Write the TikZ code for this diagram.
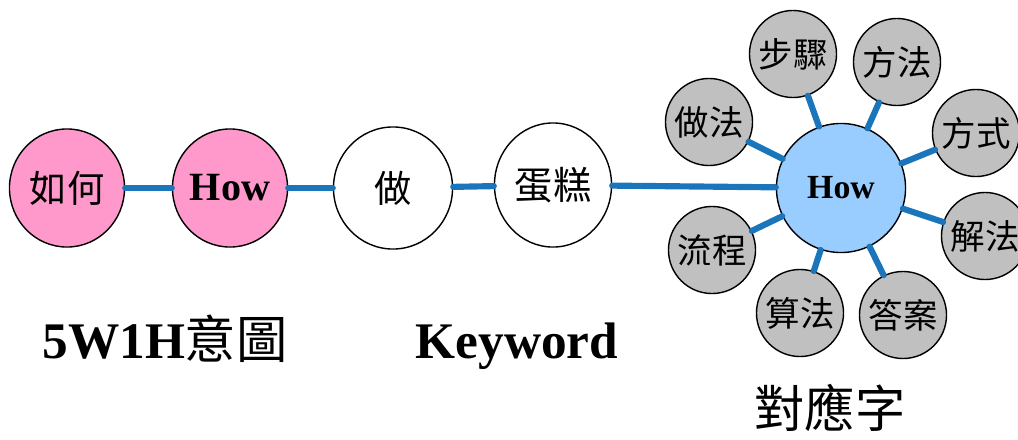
\documentclass[tikz,border=0pt]{standalone}
\usepackage{fontspec}
\setmainfont{Liberation Serif}
\newfontfamily\cjk{Noto Sans CJK TC}
\usepackage{tikz}
\usetikzlibrary{shapes.geometric, arrows}

\definecolor{linkblue}{RGB}{27,117,187}
\definecolor{pinkfill}{RGB}{255,153,204}
\definecolor{hubblue}{RGB}{153,204,255}
\definecolor{satgray}{RGB}{192,192,192}

\begin{document}
\begin{tikzpicture}[x=0.01cm,y=-0.01cm,
  word node/.style={ellipse,draw=black,thin,inner sep=0pt,minimum width=1.15cm,minimum height=1.18cm},
  sat node/.style={circle,draw=black,thin,fill=satgray,inner sep=0pt,minimum size=0.87cm,font=\cjk\fontsize{9.8}{11}\selectfont}]
\tikzstyle{link} = [draw=linkblue, line width=1.75pt, line cap=round]

\useasboundingbox (0,0) rectangle (1018,439);

% query words
\node[word node, fill=pinkfill, font=\cjk\fontsize{10.6}{12}\selectfont] (ruhe) at (67,188) {如何};
\node[word node, fill=pinkfill, font=\bfseries\fontsize{11.4}{13}\selectfont] (how) at (230,188) {How};
\node[word node, minimum width=1.19cm, minimum height=1.22cm, font=\cjk\fontsize{10.6}{12}\selectfont] (zuo) at (393,188) {做};
\node[word node, minimum width=1.17cm, minimum height=1.24cm, font=\cjk\fontsize{10.9}{12}\selectfont] (dangao) at (553,185) {蛋糕};

% hub and its words
\node[circle, draw=black, thin, fill=hubblue, inner sep=0pt, minimum size=1.29cm, font=\bfseries\fontsize{9.6}{11}\selectfont] (hub) at (841,188) {How};
\node[sat node] (buzhou) at (793,54) {步驟};
\node[sat node] (fangfa) at (897,62) {方法};
\node[sat node] (zuofa) at (709,122) {做法};
\node[sat node] (fangshi) at (976,133) {方式};
\node[sat node] (jiefa) at (985,236) {解法};
\node[sat node] (liucheng) at (712,250) {流程};
\node[sat node] (suanfa) at (800,313) {算法};
\node[sat node] (daan) at (903,315) {答案};

\draw[link] (ruhe) -- (how);
\draw[link] (how) -- (zuo);
\draw[link] (zuo) -- (dangao);
\draw[link] (dangao) -- (hub);
\draw[link] (hub) -- (buzhou);
\draw[link] (hub) -- (fangfa);
\draw[link] (hub) -- (zuofa);
\draw[link] (hub) -- (fangshi);
\draw[link] (hub) -- (jiefa);
\draw[link] (hub) -- (liucheng);
\draw[link] (hub) -- (suanfa);
\draw[link] (hub) -- (daan);

% captions
\node[anchor=base, font=\fontsize{14.6}{17}\selectfont] (intent) at (165,358) {\textbf{5W1H}{\cjk 意圖}};
\node[anchor=base, font=\bfseries\fontsize{14.6}{17}\selectfont] (keyword) at (517,358) {Keyword};
\node[font=\cjk\fontsize{14.3}{17}\selectfont] (match) at (830,408) {對應字};

\end{tikzpicture}
\end{document}
